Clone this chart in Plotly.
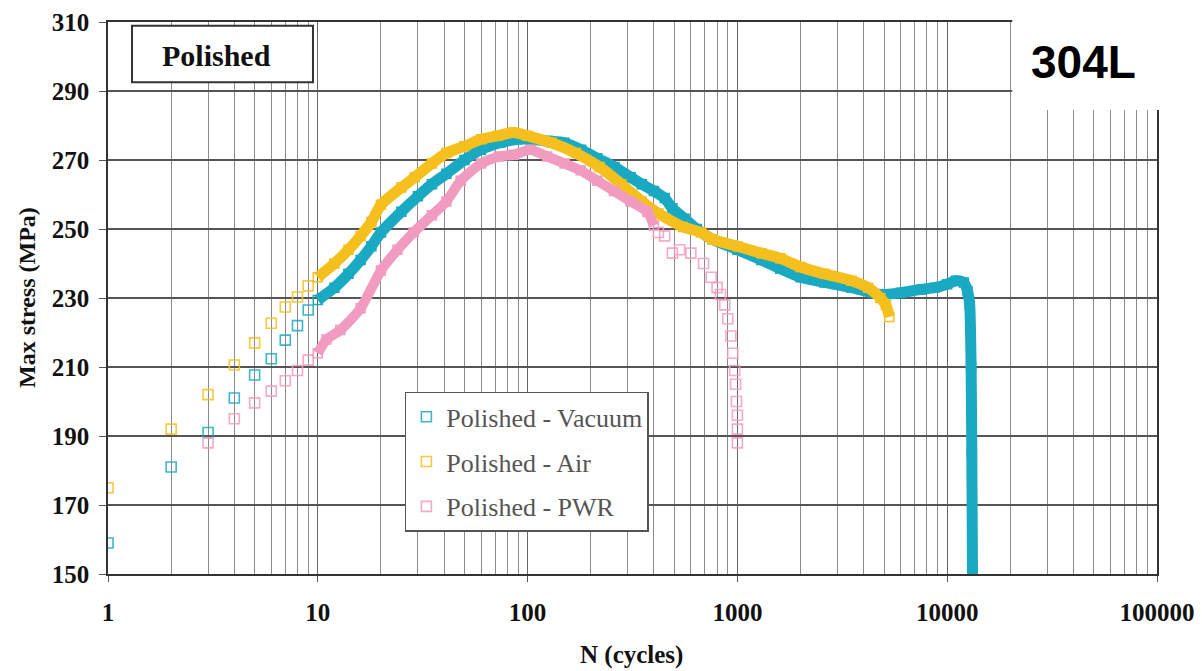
import plotly.graph_objects as go

# ---------------- data ----------------
# Early, discrete cycles (individual hollow squares)
vac_early_n = [1, 2, 3, 4, 5, 6, 7, 8, 9]
vac_early_s = [159, 181, 191, 201, 207.7, 212.4, 217.8, 222, 226.5]
air_early_n = [1, 2, 3, 4, 5, 6, 7, 8, 9]
air_early_s = [175, 192, 202, 210.6, 217, 222.7, 227.4, 230.3, 233.5]
pwr_early_n = [3, 4, 5, 6, 7, 8, 9]
pwr_early_s = [188, 195, 199.6, 203, 206, 209, 212]

# Dense part of each record (overlapping squares forming a band)
vac_n = [10, 12, 14, 16, 18, 20, 25, 30, 35, 41, 50, 60, 74, 90, 103, 125, 150, 180,
         215, 260, 310, 350, 400, 450, 490, 560, 640, 760, 1000, 1300, 1600, 2000,
         2600, 3500, 4800, 6000, 7500, 8700, 10000, 11000, 12000, 12500, 12800,
         13000, 13100, 13200]
vac_s = [229.4, 233, 237, 241, 245, 249, 255, 259.5, 263, 266, 270, 273, 275, 276,
         276, 275.5, 275, 273, 270.5, 268, 265, 263, 261, 259, 256, 253, 250, 247,
         244, 241, 238.5, 236, 234.5, 233, 231, 231.5, 232.5, 233, 234, 235, 234.5,
         232, 228, 210, 185, 150]

air_n = [10, 12, 14, 16, 18, 20, 25, 29, 35, 41, 50, 60, 72, 86, 100, 130, 170, 220,
         280, 350, 420, 550, 670, 760, 1000, 1300, 1600, 2000, 2600, 3500, 4200,
         4800, 5100, 5300]
air_s = [236, 240, 244, 248, 252, 257, 262, 265, 269, 272, 274, 276, 277, 278, 277,
         275, 272, 268, 263, 258, 254.5, 250.6, 249, 247, 245, 243, 241.5, 239, 237,
         235, 233, 230, 228, 224.5]

pwr_n = [10, 11, 12.8, 16, 20, 24, 28.6, 35, 41, 48, 60, 73, 86, 103, 124, 150, 179,
         215, 258, 310, 372, 400]
pwr_s = [214, 218, 220.7, 227, 238, 244, 249, 254, 258, 264, 269, 271, 271.5, 273,
         271, 269, 267, 264, 261, 258, 255, 251]

# Scattered PWR points after the band breaks up
pwr_late_n = [420, 450, 490, 530, 600, 690, 750, 800, 830, 870, 900, 930, 950, 970,
              980, 990, 1000, 1000, 1000]
pwr_late_s = [249, 248, 243, 244, 243, 240, 236, 233, 231, 228, 224, 219, 214, 209,
              205, 200, 196, 192, 188]

x_ticks = [1, 10, 100, 1000, 10000, 100000]
x_tick_labels = ["1", "10", "100", "1000", "10000", "100000"]
y_ticks = [150, 170, 190, 210, 230, 250, 270, 290, 310]

series_names = ["Polished - Vacuum", "Polished - Air", "Polished - PWR"]

# ---------------- styling ----------------
TEAL = "#1aa9c2"
YELLOW = "#f5c01e"
PINK = "#f29bc0"
SERIF = "Liberation Serif, Times New Roman, serif"

fig = go.Figure()

def band(xs, ys, color, width):
    fig.add_trace(go.Scatter(
        x=xs, y=ys, mode="lines+markers", showlegend=False,
        line=dict(color=color, width=width, shape="spline", smoothing=0.6),
        marker=dict(symbol="square-open", size=9, color=color,
                    line=dict(width=1.5, color=color)),
        hoverinfo="skip"))

def points(xs, ys, color, name, group):
    fig.add_trace(go.Scatter(
        x=xs, y=ys, mode="markers", name=name, legendgroup=group,
        marker=dict(symbol="square-open", size=10, color=color, opacity=0.85,
                    line=dict(width=1.6, color=color))))

# legend traces (early points) first so legend order matches
points(vac_early_n, vac_early_s, TEAL, series_names[0], "v")
points(air_early_n, air_early_s, YELLOW, series_names[1], "a")
points(pwr_early_n + pwr_late_n, pwr_early_s + pwr_late_s, PINK, series_names[2], "p")

band(vac_n, vac_s, TEAL, 11)
band(air_n, air_s, YELLOW, 11)
band(pwr_n, pwr_s, PINK, 10)

grid_major = "#666666"
grid_minor = "#8a8a8a"

fig.update_xaxes(
    type="log", range=[0, 5],
    tickvals=x_ticks, ticktext=x_tick_labels,
    showgrid=True, gridcolor=grid_major, gridwidth=1.3,
    minor=dict(dtick="D1", showgrid=True, gridcolor=grid_minor, gridwidth=1,
               ticks=""),
    ticks="outside", ticklen=6, tickcolor="#555", ticklabelstandoff=9,
    showline=True, linecolor="#333", linewidth=1.5, mirror=True,
    tickfont=dict(family=SERIF, size=25, color="#111", weight="bold"),
    zeroline=False, automargin=False,
)
fig.update_yaxes(
    range=[150, 310], tickvals=y_ticks,
    showgrid=True, gridcolor="#555555", gridwidth=1.5,
    ticks="outside", ticklen=7, tickcolor="#555", ticklabelstandoff=5,
    showline=True, linecolor="#333", linewidth=1.5, mirror=True,
    tickfont=dict(family=SERIF, size=25, color="#111", weight="bold"),
    zeroline=False, automargin=False,
)

fig.update_layout(
    width=1194, height=663,
    margin=dict(l=100, r=45, t=14, b=97),
    paper_bgcolor="white", plot_bgcolor="white",
    legend=dict(
        x=0.283, y=0.33, xanchor="left", yanchor="top",
        bgcolor="white", bordercolor="#555", borderwidth=1.5,
        font=dict(family=SERIF, size=26, color="#555"),
        traceorder="grouped", tracegroupgap=8, itemsizing="trace",
    ),
    shapes=[
        # "Polished" label box
        dict(type="rect", xref="paper", yref="paper",
             x0=0.0229, x1=0.1954, y0=0.891, y1=0.993,
             line=dict(color="#333", width=2), fillcolor="white", layer="above"),
        # white box behind "304L"
        dict(type="rect", xref="paper", yref="paper",
             x0=0.862, x1=1.06, y0=0.8406, y1=1.01,
             line=dict(width=0), fillcolor="white", layer="above"),
    ],
    annotations=[
        dict(text="<b>Polished</b>", xref="paper", yref="paper", x=0.103, y=0.940,
             xanchor="center", yanchor="middle",
             showarrow=False, font=dict(family=SERIF, size=30, color="#111")),
        dict(text="<b>304L</b>", xref="paper", yref="paper", x=0.9297, y=0.9275,
             xanchor="center", yanchor="middle",
             showarrow=False, font=dict(family="Liberation Sans, Arial, sans-serif",
                                        size=46, color="black")),
        dict(text="<b>N (cycles)</b>", xref="paper", yref="paper", x=0.4986, y=-0.147,
             xanchor="center", yanchor="middle",
             showarrow=False, font=dict(family=SERIF, size=25, color="#111")),
        dict(text="<b>Max stress (MPa)</b>", xref="paper", yref="paper", x=-0.0772,
             y=0.5, textangle=-90, xanchor="center", yanchor="middle",
             showarrow=False, font=dict(family=SERIF, size=24, color="#111")),
    ],
)

fig.write_html("out.html")
